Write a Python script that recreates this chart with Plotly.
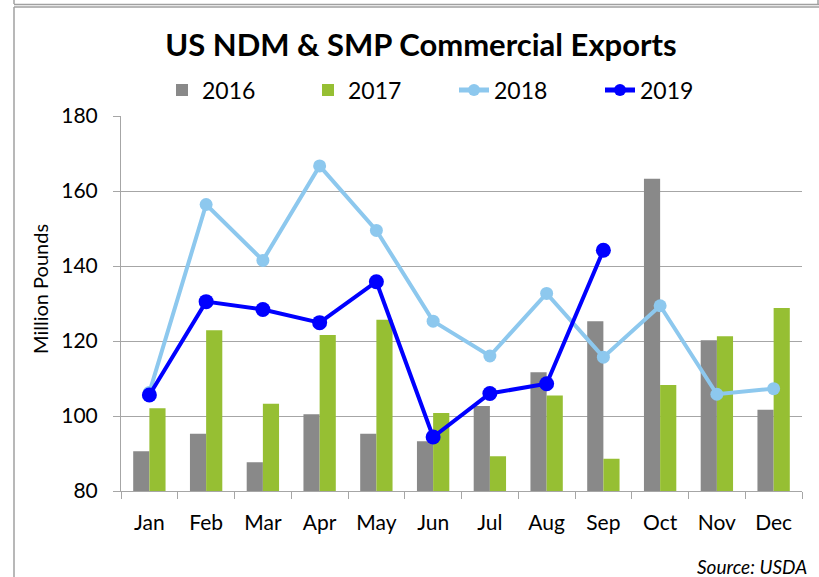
import plotly.graph_objects as go

months = ["Jan", "Feb", "Mar", "Apr", "May", "Jun", "Jul", "Aug", "Sep", "Oct", "Nov", "Dec"]
y2016 = [90.6, 95.3, 87.7, 100.5, 95.3, 93.3, 102.7, 111.7, 125.3, 163.3, 120.2, 101.7]
y2017 = [102.1, 122.9, 103.3, 121.6, 125.7, 100.8, 89.3, 105.5, 88.6, 108.3, 121.3, 128.8]
y2018 = [106.3, 156.4, 141.5, 166.7, 149.5, 125.3, 116.0, 132.7, 115.7, 129.4, 105.8, 107.3]
y2019 = [105.6, 130.5, 128.4, 124.9, 135.8, 94.4, 106.0, 108.6, 144.2]
yticks = [80, 100, 120, 140, 160, 180]

FONT = "Lato"
W, H = 819, 577
L, R, T, B = 121, 17, 116, 86
PW, PH = W - L - R, H - T - B


def px_x(px):
    return (px - L) / PW


def px_y(py):
    return (H - B - py) / PH


fig = go.Figure()
fig.add_trace(go.Bar(x=months, y=y2016, name="2016", marker=dict(color="#898989", line=dict(width=0))))
fig.add_trace(go.Bar(x=months, y=y2017, name="2017", marker=dict(color="#96BF33", line=dict(width=0))))
fig.add_trace(go.Scatter(x=months, y=y2018, name="2018", mode="lines+markers",
                         line=dict(color="#8DC8EE", width=4), marker=dict(color="#8DC8EE", size=13)))
fig.add_trace(go.Scatter(x=months[:len(y2019)], y=y2019, name="2019", mode="lines+markers",
                         line=dict(color="#0000FF", width=4), marker=dict(color="#0000FF", size=15)))

grey = "#A6A6A6"
fig.update_layout(
    width=W, height=H,
    margin=dict(l=L, r=R, t=T, b=B, pad=0),
    paper_bgcolor="white", plot_bgcolor="white",
    font=dict(family=FONT, color="#000000", size=20),
    barmode="group", bargap=0.43, bargroupgap=0,
    title=dict(text="<b>US NDM & SMP Commercial Exports</b>", x=421 / W, xanchor="center",
               y=1 - 45 / H, yanchor="middle", font=dict(family=FONT, size=31, color="#000000")),
    showlegend=True,
    legend=dict(orientation="h", x=px_x(162), xanchor="left", y=px_y(90), yanchor="middle",
                font=dict(family=FONT, size=23, color="#000000"), bgcolor="rgba(0,0,0,0)",
                entrywidth=101, entrywidthmode="pixels", traceorder="normal", itemsizing="constant"),
    xaxis=dict(type="category", range=[-0.5, len(months) - 0.5], showline=True, linecolor=grey,
               linewidth=1, ticks="outside", tickson="boundaries", ticklen=7, tickcolor=grey,
               showgrid=False, tickfont=dict(family=FONT, size=21, color="#000000"),
               ticklabelstandoff=13),
    yaxis=dict(range=[80, 180], tickvals=yticks, ticktext=[str(v) for v in yticks], showline=True,
               linecolor=grey, linewidth=1, ticks="outside", ticklen=7, tickcolor=grey,
               showgrid=True, gridcolor=grey, gridwidth=1, zeroline=False,
               tickfont=dict(family=FONT, size=21, color="#000000"), ticklabelstandoff=11),
)

fig.add_annotation(text="Million Pounds", textangle=-90, xref="paper", yref="paper",
                   x=px_x(40), y=px_y(289), xanchor="center", yanchor="middle", showarrow=False,
                   font=dict(family=FONT, size=20, color="#000000"))
fig.add_annotation(text="<i>Source: USDA</i>", xref="paper", yref="paper",
                   x=px_x(809), y=px_y(566), xanchor="right", yanchor="middle", showarrow=False,
                   font=dict(family=FONT, size=19, color="#000000"))

# frame lines of the surrounding boxes
frame = "#A0A0A0"
for (x0, y0, x1, y1) in [(14, 0, 14, 4), (818, 0, 818, 4), (14, 4.5, 819, 4.5),
                         (14, 7, 819, 7), (14, 7, 14, 577)]:
    fig.add_shape(type="line", xref="paper", yref="paper", x0=px_x(x0), y0=px_y(y0),
                  x1=px_x(x1), y1=px_y(y1), line=dict(color=frame, width=1.5))

fig.write_html("out.html", config={"displayModeBar": False},
               post_script="document.body.style.margin='0';document.body.style.padding='0';")
